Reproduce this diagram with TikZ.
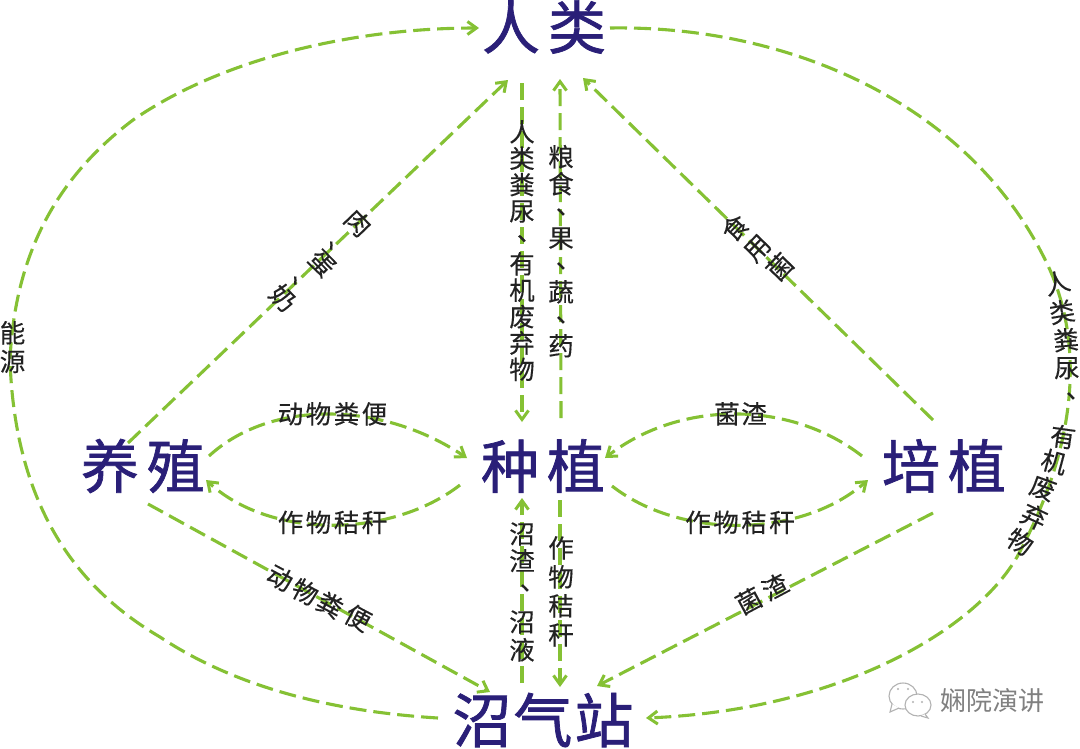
\documentclass[tikz,border=0pt]{standalone}
\usepackage{fontspec}
\setmainfont{Noto Sans CJK SC}
\newfontfamily\titlefont[FakeBold=1.2]{Noto Sans CJK SC}
\newfontfamily\tagfont[FakeBold=0.3]{Noto Sans CJK SC}
\usetikzlibrary{arrows.meta}
\definecolor{flowgreen}{HTML}{85C134}
\definecolor{titleblue}{HTML}{2A1F78}
\definecolor{inkblack}{HTML}{222222}
\newcounter{glyphno}
\tikzset{
  x=1pt,y=-1pt,
  titlenode/.style={inner sep=0pt,text=titleblue,font=\titlefont\fontsize{58}{60}\selectfont},
  flow/.style={draw=flowgreen,line width=3.1pt,dash pattern=on 17pt off 7pt,-{Straight Barb[length=9pt,width=13pt,line width=3pt]}},
  tag/.style={inner sep=0pt,text=inkblack,text height=22pt,text depth=3pt,font=\tagfont\fontsize{25.5}{27}\selectfont},
  markgray/.style={draw=black!30,line width=1.1pt,fill=white}
}
\newcommand{\dunhao}{\makebox[.4em][l]{\raisebox{.25em}{、}}}
\newcommand{\gl}[4]{\stepcounter{glyphno}\node[tag,rotate=#3] (g\arabic{glyphno}) at (#1,#2) {#4};}
\newcommand{\vchars}[4]{\foreach \c [count=\i from 0] in {#4}{\pgfmathsetmacro\yy{#2+\i*#3}\gl{#1}{\yy}{0}{\c}}}
\newcommand{\hchars}[4]{\foreach \c [count=\i from 0] in {#4}{\pgfmathsetmacro\xx{#1+\i*#3}\gl{\xx}{#2}{0}{\c}}}
\begin{document}
\begin{tikzpicture}
\useasboundingbox (0,0) rectangle (1080,748);
\fill[white] (0,0) rectangle (1080,748);
\node[titlenode] (human) at (544,27) {人\hspace{8pt}类};
\node[titlenode] (breed) at (143,466) {养\hspace{8pt}殖};
\node[titlenode] (plant) at (543,466) {种\hspace{8pt}植};
\node[titlenode] (culture) at (944,466) {培\hspace{8pt}植};
\node[titlenode,font=\titlefont\fontsize{59}{61}\selectfont] (biogas) at (543,720) {沼\hspace{2pt}气\hspace{2pt}站};
% big arcs
\draw[flow] ([shift={(-105,-2)}]biogas.center) .. controls (340,712) and (240,690) .. (160,637)
  .. controls (80,590) and (15,510) .. (10,360)
  .. controls (15,250) and (60,175) .. (133,120)
  .. controls (220,60) and (350,28) .. ([shift={(-65,1)}]human.center);
\draw[flow] ([shift={(66,1)}]human.center) .. controls (790,25) and (975,105) .. (1050,270)
  .. controls (1085,350) and (1075,450) .. (1017,557)
  .. controls (975,630) and (840,710) .. ([shift={(103,-2)}]biogas.center);
% straight
\draw[flow] ([shift={(-15,-23)}]breed.center) -- ([shift={(-36,53)}]human.center);
\draw[flow] ([shift={(-11,-46)}]culture.center) -- ([shift={(39,51)}]human.center);
\draw[flow] ([shift={(-22,56)}]human.center) -- ([shift={(-21,-44)}]plant.center);
\draw[flow] ([shift={(18,-48)}]plant.center) -- ([shift={(16,52)}]human.center);
\draw[flow] ([shift={(5,38)}]breed.center) -- ([shift={(-53,-28)}]biogas.center);
\draw[flow] ([shift={(-11,47)}]culture.center) -- ([shift={(54,-34)}]biogas.center);
\draw[flow] ([shift={(-21,-37)}]biogas.center) -- ([shift={(-21,32)}]plant.center);
\draw[flow] ([shift={(17,34)}]plant.center) -- ([shift={(17,-33)}]biogas.center);
% curved
\draw[flow] ([shift={(66,-10)}]breed.center) .. controls (270,400) and (380,400) .. ([shift={(-76,-8)}]plant.center);
\draw[flow] ([shift={(-83,19)}]plant.center) .. controls (390,539) and (270,539) .. ([shift={(63,14)}]breed.center);
\draw[flow] ([shift={(-82,-10)}]culture.center) .. controls (790,400) and (680,400) .. ([shift={(62,-8)}]plant.center);
\draw[flow] ([shift={(69,20)}]plant.center) .. controls (680,539) and (800,539) .. ([shift={(-76,14)}]culture.center);
% labels
\hchars{290.5}{414}{28}{动,物,粪,便}
\hchars{290.5}{522.5}{28}{作,物,秸,秆}
\hchars{727}{414}{27}{菌,渣}
\hchars{698}{522.5}{28}{作,物,秸,秆}
\vchars{522}{132}{26.4}{人,类,粪,尿,\dunhao,有,机,废,弃,物}
\vchars{561}{157}{27}{粮,食,\dunhao,果,\dunhao,蔬,\dunhao,药}
\gl{522}{534}{0}{沼}\gl{522}{561}{0}{渣}\gl{525}{587}{0}{\dunhao}\gl{522}{622}{0}{沼}\gl{522}{650}{0}{液}
\vchars{561}{548}{29}{作,物,秸,秆}
\vchars{12.5}{333}{28.5}{能,源}
\gl{358}{223}{-46}{肉}\gl{332}{245}{-46}{\dunhao}\gl{322}{263}{-46}{蛋}\gl{296}{280}{-46}{\dunhao}\gl{283}{298}{-46}{奶}
\gl{735}{228}{46}{食}\gl{757}{248}{46}{用}\gl{780}{267}{46}{菌}
\gl{280}{578}{-28}{动}\gl{305}{592}{-28}{物}\gl{330}{605}{-28}{粪}\gl{358}{618}{-28}{便}
\gl{749}{601}{28}{菌}\gl{775}{587}{28}{渣}
\gl{1057}{283}{15}{人}\gl{1062}{312}{10}{类}\gl{1066}{340}{5}{粪}\gl{1067}{368}{0}{尿}\gl{1071}{395}{0}{\dunhao}
\gl{1063}{437}{-8}{有}\gl{1054}{462}{-15}{机}\gl{1043}{488}{-20}{废}\gl{1034}{517}{-25}{弃}\gl{1020}{542}{-32}{物}
% watermark
\draw[markgray] (903,696) ellipse (14 and 13);
\draw[markgray] (892,704) -- (890,712) -- (899,708);
\draw[markgray] (918,705) ellipse (13 and 11);
\draw[markgray] (925,714) -- (928,718) -- (921,716);
\fill[black!30] (898,689) circle (1.2) (908,689) circle (1.2) (913,702) circle (1.2) (922,702) circle (1.2);
\node[inner sep=0pt,text=black!50,font=\fontsize{26}{28}\selectfont] (brand) at (992,701) {娴院演讲};
\end{tikzpicture}
\end{document}
